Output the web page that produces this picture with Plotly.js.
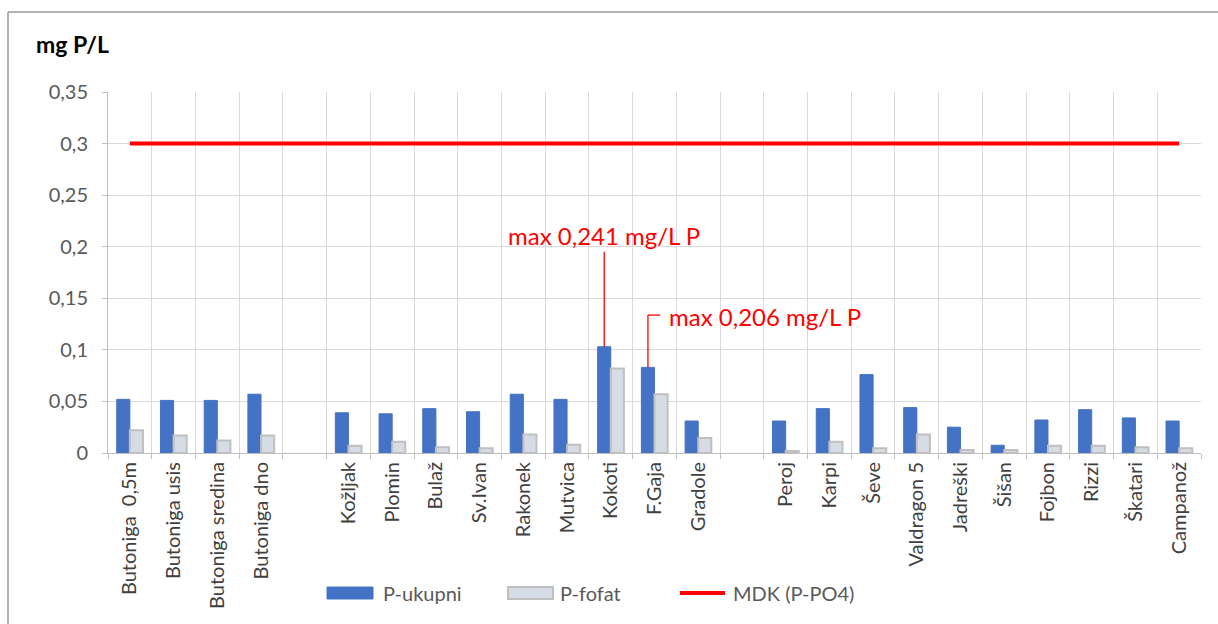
<!DOCTYPE html>
<html>
<head>
<meta charset="utf-8">
<script src="https://cdn.plot.ly/plotly-3.0.1.min.js"></script>
<style>
  html, body { margin: 0; padding: 0; background: #ffffff; }
  #chart { width: 1218px; height: 624px; }
</style>
</head>
<body>
<div id="chart"></div>
<script>
// ---- data ----
const categories = [
  'Butoniga  0,5m', 'Butoniga usis', 'Butoniga sredina', 'Butoniga dno', ' ',
  'Kožljak', 'Plomin', 'Bulaž', 'Sv.Ivan', 'Rakonek', 'Mutvica', 'Kokoti', 'F.Gaja', 'Gradole', '  ',
  'Peroj', 'Karpi', 'Ševe', 'Valdragon 5', 'Jadreški', 'Šišan', 'Fojbon', 'Rizzi', 'Škatari', 'Campanož'
];
const P_ukupni = [
  0.052, 0.051, 0.051, 0.057, null,
  0.039, 0.038, 0.043, 0.040, 0.057, 0.052, 0.103, 0.083, 0.031, null,
  0.031, 0.043, 0.076, 0.044, 0.025, 0.0075, 0.032, 0.042, 0.034, 0.031
];
const P_fofat = [
  0.022, 0.017, 0.012, 0.017, null,
  0.007, 0.011, 0.0055, 0.0045, 0.018, 0.008, 0.082, 0.057, 0.0145, null,
  0.002, 0.011, 0.0045, 0.018, 0.003, 0.003, 0.007, 0.007, 0.0055, 0.0045
];
const MDK = [
  0.3, 0.3, 0.3, 0.3, 0.3,
  0.3, 0.3, 0.3, 0.3, 0.3, 0.3, 0.3, 0.3, 0.3, 0.3,
  0.3, 0.3, 0.3, 0.3, 0.3, 0.3, 0.3, 0.3, 0.3, 0.3
];
const yTickVals = [0, 0.05, 0.1, 0.15, 0.2, 0.25, 0.3, 0.35];
const yTickText = ['0', '0,05', '0,1', '0,15', '0,2', '0,25', '0,3', '0,35'];
const seriesNames = ['P-ukupni', 'P-fofat', 'MDK (P-PO4)'];
const maxLabels = ['max 0,241 mg/L P', 'max 0,206 mg/L P'];
const maxStations = ['Kokoti', 'F.Gaja'];

// ---- chart ----
const FONT = 'Lato, "Open Sans", sans-serif';
const W = 1218, H = 624;
const M = { l: 108, r: 17, t: 92, b: 171 };
const PW = W - M.l - M.r, PH = H - M.t - M.b;
const px = v => (v - M.l) / PW;      // page pixel -> paper x
const py = v => (H - M.b - v) / PH;  // page pixel -> paper y

const COLORS = { blue: '#4472c4', gray: '#d6dce5', grayLine: '#bfbfbf', red: '#ff0000' };
const bargap = 0.4;
const blueOffset = (1 - bargap) / 4; // centre of first bar in a 2-bar group

const traces = [
  {
    type: 'bar', name: seriesNames[0], x: categories, y: P_ukupni,
    marker: { color: COLORS.blue, line: { color: COLORS.blue, width: 1 } }
  },
  {
    type: 'bar', name: seriesNames[1], x: categories, y: P_fofat,
    marker: { color: COLORS.gray, line: { color: COLORS.grayLine, width: 2 } }
  },
  {
    type: 'scatter', mode: 'lines', name: seriesNames[2], x: categories, y: MDK,
    line: { color: COLORS.red, width: 4 }
  }
];

const iK = categories.indexOf(maxStations[0]);
const iF = categories.indexOf(maxStations[1]);
const xK = iK - blueOffset;
const xF = iF - blueOffset;

const borderColor = '#9a9a9a';
const legY = 593;
const shapes = [
  // outer frame (top + left)
  { type: 'line', xref: 'paper', yref: 'paper', x0: px(8), x1: px(1230), y0: py(12), y1: py(12),
    line: { color: borderColor, width: 1.5 } },
  { type: 'line', xref: 'paper', yref: 'paper', x0: px(8), x1: px(8), y0: py(12), y1: py(640),
    line: { color: borderColor, width: 1.5 } },
  // leader for Kokoti
  { type: 'line', xref: 'x', yref: 'y', x0: xK, x1: xK, y0: P_ukupni[iK], y1: 0.195,
    line: { color: COLORS.red, width: 1.3 } },
  // leader for F.Gaja (elbow)
  { type: 'line', xref: 'x', yref: 'y', x0: xF, x1: xF, y0: P_ukupni[iF], y1: 0.1337,
    line: { color: COLORS.red, width: 1.3 } },
  { type: 'line', xref: 'x', yref: 'y', x0: xF, x1: xF + 0.28, y0: 0.1337, y1: 0.1337,
    line: { color: COLORS.red, width: 1.3 } },
  // legend swatches
  { type: 'rect', xref: 'paper', yref: 'paper', x0: px(327), x1: px(373), y0: py(legY - 6), y1: py(legY + 6),
    fillcolor: COLORS.blue, line: { color: COLORS.blue, width: 1 } },
  { type: 'rect', xref: 'paper', yref: 'paper', x0: px(508), x1: px(553), y0: py(legY - 6), y1: py(legY + 6),
    fillcolor: COLORS.gray, line: { color: COLORS.grayLine, width: 2 } },
  { type: 'line', xref: 'paper', yref: 'paper', x0: px(680), x1: px(725), y0: py(legY), y1: py(legY),
    line: { color: COLORS.red, width: 4 } }
];

const legFont = { family: FONT, size: 20, color: '#595959' };
const annotations = [
  { xref: 'x', yref: 'y', x: xK, y: 0.211, text: maxLabels[0], showarrow: false,
    xanchor: 'center', yanchor: 'middle', font: { family: FONT, size: 24, color: COLORS.red } },
  { xref: 'x', yref: 'y', x: iF + 0.28, y: 0.132, text: maxLabels[1], showarrow: false,
    xanchor: 'left', yanchor: 'middle', font: { family: FONT, size: 24, color: COLORS.red } },
  // legend labels
  { xref: 'paper', yref: 'paper', x: px(381), y: py(legY), text: seriesNames[0], showarrow: false,
    xanchor: 'left', yanchor: 'middle', font: legFont },
  { xref: 'paper', yref: 'paper', x: px(558), y: py(legY), text: seriesNames[1], showarrow: false,
    xanchor: 'left', yanchor: 'middle', font: legFont },
  { xref: 'paper', yref: 'paper', x: px(731), y: py(legY), text: seriesNames[2], showarrow: false,
    xanchor: 'left', yanchor: 'middle', font: legFont }
];

const layout = {
  width: W, height: H,
  margin: M,
  paper_bgcolor: '#ffffff', plot_bgcolor: '#ffffff',
  font: { family: FONT, size: 20, color: '#595959' },
  title: {
    text: '<b>mg P/L</b>', xref: 'container', yref: 'container',
    x: 36 / W, xanchor: 'left', y: 1 - 45 / H, yanchor: 'middle',
    font: { family: FONT, size: 23, color: '#000000' }
  },
  barmode: 'group', bargap: bargap, bargroupgap: 0,
  xaxis: {
    type: 'category', range: [-0.5, categories.length - 0.5],
    tickson: 'boundaries', showgrid: true, gridcolor: '#d9d9d9', gridwidth: 1,
    ticks: 'outside', ticklen: 5, tickcolor: '#bfbfbf',
    showline: true, linecolor: '#bfbfbf', linewidth: 1,
    tickangle: -90, tickfont: { family: FONT, size: 20, color: '#404040' },
    automargin: false, fixedrange: true
  },
  yaxis: {
    range: [0, 0.35], tickvals: yTickVals, ticktext: yTickText,
    showgrid: true, gridcolor: '#d9d9d9', gridwidth: 1, zeroline: false,
    ticks: 'outside', ticklen: 5, tickcolor: '#bfbfbf', ticklabelstandoff: 10,
    showline: true, linecolor: '#bfbfbf', linewidth: 1,
    tickfont: { family: FONT, size: 20, color: '#595959' },
    automargin: false, fixedrange: true
  },
  showlegend: false,
  shapes: shapes,
  annotations: annotations
};

Plotly.newPlot('chart', traces, layout, { staticPlot: true, displayModeBar: false });
</script>
</body>
</html>
